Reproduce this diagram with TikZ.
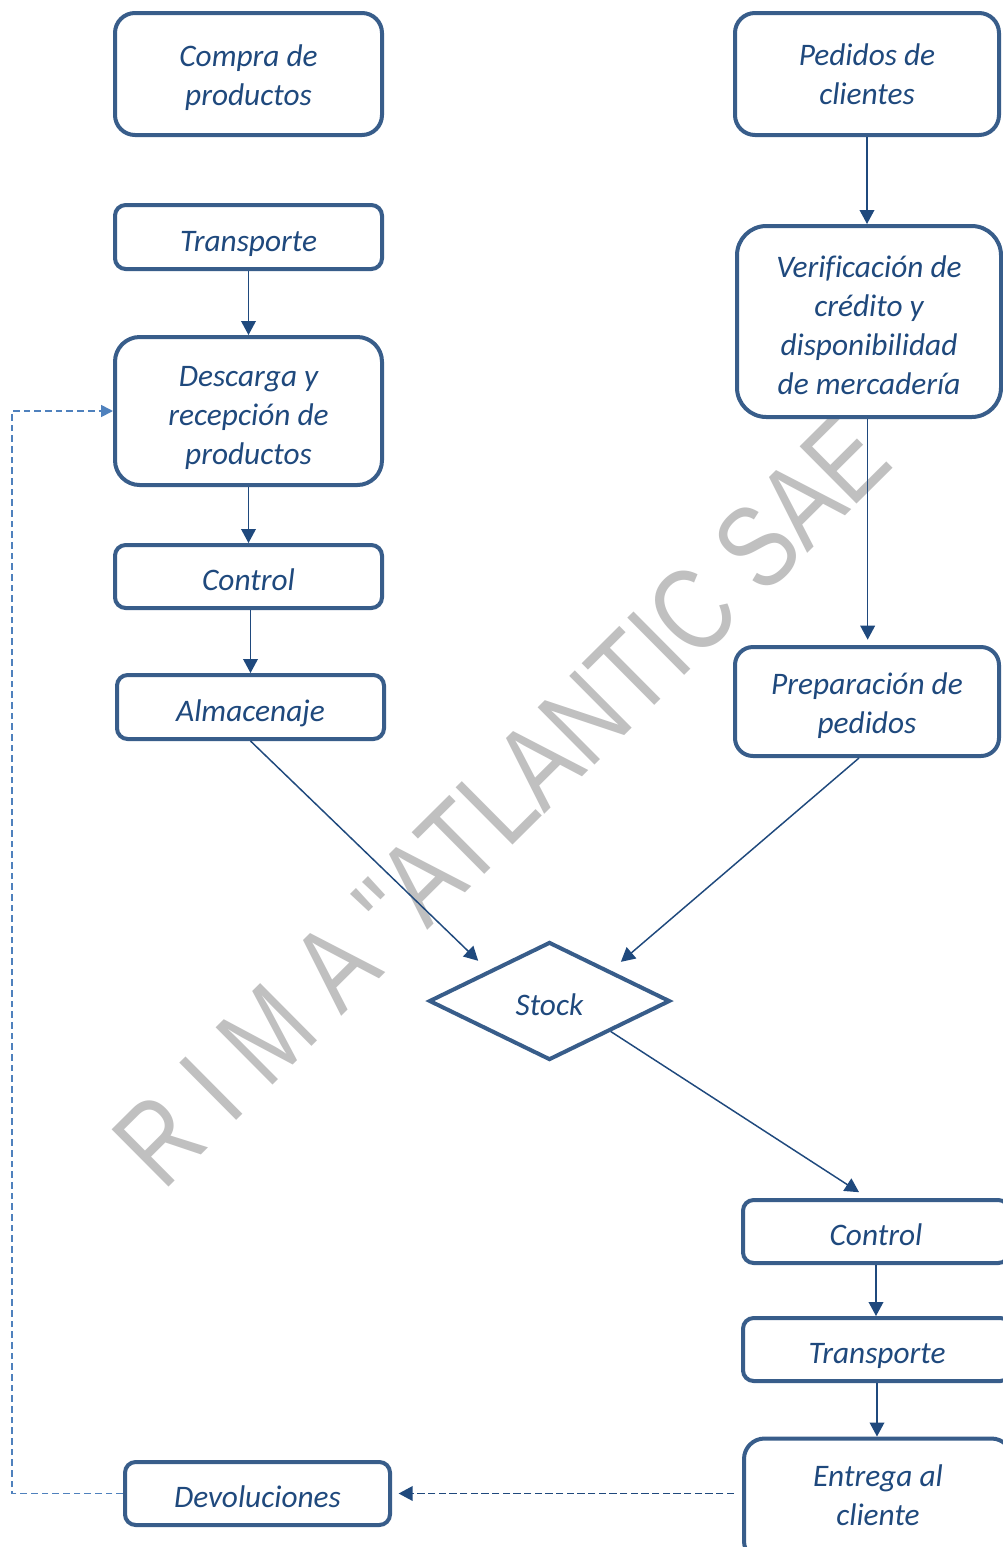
\documentclass[tikz,border=0pt]{standalone}
\usepackage{fontspec}
\setmainfont{Carlito}[Ligatures={NoCommon}]
\newfontfamily\wmfont{Liberation Sans}
\usetikzlibrary{shapes.geometric,arrows.meta}
\definecolor{boxblue}{HTML}{385D8A}
\definecolor{txtblue}{HTML}{1F497D}
\definecolor{arrblue}{HTML}{1F497D}
\definecolor{retblue}{HTML}{4F81BD}
\definecolor{wmgray}{HTML}{C0C0C0}
\newcommand\fl[1]{\rule{0pt}{#1}}
\newcommand\lastd[1]{\rule[-#1]{0pt}{#1}}
\begin{document}
\begin{tikzpicture}[x=0.75pt,y=-0.75pt,
  box/.style={draw=boxblue, line width=3pt, fill=white, text=txtblue,
    font=\itshape\fontsize{23.5}{29.25}\selectfont, align=center, inner sep=0pt,
    execute at begin node={\rule[-6pt]{0pt}{33pt}}},
  wbox/.style={box, minimum width=200.25pt},
  rbox/.style={box, minimum width=198pt},
  flow/.style={draw=arrblue, line width=1.1pt, -{Triangle[length=10.5pt,width=11pt]}},
  back/.style={draw=arrblue, line width=1.1pt, dash pattern=on 5.5pt off 2.5pt, -{Triangle[length=10.5pt,width=11pt]}},
  ret/.style={draw=retblue, line width=1.3pt, dash pattern=on 5pt off 3pt, -{Triangle[length=9pt,width=9pt]}},
  watermark/.style={text=wmgray, font=\wmfont\fontsize{88}{88}\selectfont, anchor=base}
]
\useasboundingbox (0,0) rectangle (1003,1547);
\clip (0,0) rectangle (1003,1547);
\fill[white] (0,0) rectangle (1003,1547);

% watermark
\node[watermark, rotate=44.8, xscale=0.8] (wm) at (530,829) {R I M A "ATLANTIC SAE};

% left column
\node[wbox, minimum height=91.5pt, rounded corners=15pt] (compra) at (248.5,74) {\fl{24.5pt}Compra de\\productos};
\node[wbox, minimum height=48pt, rounded corners=8pt] (transL) at (248.5,237) {Transporte};
\node[wbox, minimum height=111pt, rounded corners=18.5pt] (desc) at (248.5,411) {\fl{28pt}Descarga y\\recepción de\\productos};
\node[wbox, minimum height=47.25pt, rounded corners=8pt] (ctrlL) at (248.5,576.5) {Control};
\node[wbox, minimum height=48pt, rounded corners=8pt] (alm) at (250.5,707) {Almacenaje};

% right column
\node[rbox, minimum height=91.5pt, rounded corners=15pt] (ped) at (867,74) {\fl{22pt}Pedidos de\\clientes};
\node[rbox, minimum height=143.25pt, rounded corners=22pt] (ver) at (869,321.5) {\fl{28pt}Verificación de\\crédito y\\disponibilidad\\de mercadería};
\node[rbox, minimum height=81.75pt, rounded corners=13.5pt] (prep) at (867,701.5) {\fl{25pt}Preparación de\\pedidos};

% stock
\node[box, diamond, aspect=2, minimum width=180.75pt, minimum height=88.5pt] (stock) at (549.5,1001) {Stock};

% lower right
\node[box, minimum width=199.5pt, minimum height=47.25pt, rounded corners=8pt] (ctrlR) at (876,1231.5) {Control};
\node[box, minimum width=201pt, minimum height=47.25pt, rounded corners=8pt] (transR) at (877,1349.5) {Transporte};
\node[box, minimum width=201pt, minimum height=92.25pt, rounded corners=15.4pt] (ent) at (878,1500) {\fl{18.5pt}Entrega al\\cliente\lastd{9.2pt}};

% devoluciones
\node[box, minimum width=198.75pt, minimum height=47.25pt, rounded corners=8pt] (dev) at (257.5,1493.5) {Devoluciones};

% connectors
\draw[flow] (transL.south) -- (transL.south |- desc.north);
\draw[flow] (desc.south) -- (desc.south |- ctrlL.north);
\draw[flow] (alm.north |- ctrlL.south) -- (alm.north);
\draw[flow] (ped.south) -- (ped.south |- ver.north);
\draw[flow] ([xshift=-1pt]ver.south) -- ([xshift=-1pt,yshift=4pt]ver.south |- prep.north);
\draw[flow, shorten >=10.5pt] (alm.south) -- (stock.north west);
\draw[flow, shorten >=10pt] ([xshift=-6pt]prep.south) -- (stock.north east);
\draw[flow, shorten >=8pt] (stock.south east) -- ([xshift=-6pt]ctrlR.north);
\draw[flow] (ctrlR.south) -- (ctrlR.south |- transR.north);
\draw[flow] (transR.south) -- (transR.south |- ent.north);
\draw[back, shorten <=6pt, shorten >=5pt] (ent.west |- dev.east) -- (dev.east);
\coordinate (retorno) at (12,1493.5);
\draw[ret] (dev.west) -- (retorno) |- (desc.west);
\end{tikzpicture}
\end{document}
